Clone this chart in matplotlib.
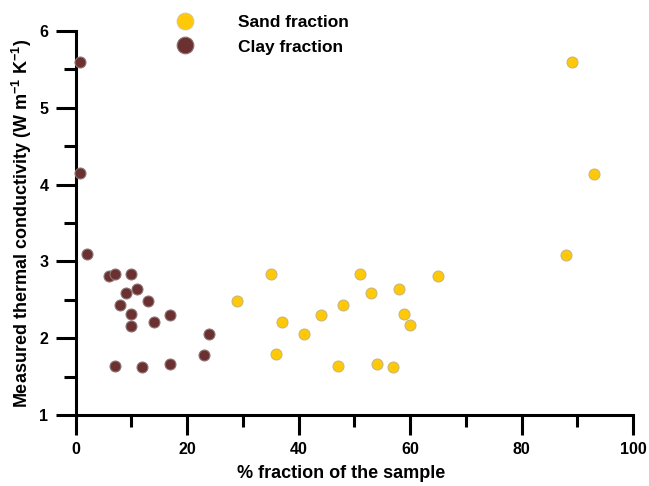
import matplotlib
matplotlib.use("Agg")
import matplotlib.pyplot as plt
from matplotlib.ticker import MultipleLocator
from matplotlib.lines import Line2D

plt.rcParams['font.family'] = ['Liberation Sans', 'DejaVu Sans']
plt.rcParams['font.weight'] = 'bold'
plt.rcParams['mathtext.fontset'] = 'custom'
plt.rcParams['mathtext.rm'] = 'Liberation Sans:bold'
plt.rcParams['mathtext.bf'] = 'Liberation Sans:bold'
plt.rcParams['mathtext.default'] = 'bf'

# Data
sand_x = [89, 93, 88, 29, 35, 51, 65, 53, 58, 48, 44, 37, 41, 59, 60, 36, 47, 54, 57]
sand_y = [5.59, 4.14, 3.08, 2.49, 2.84, 2.83, 2.81, 2.59, 2.64, 2.43, 2.30, 2.21, 2.06, 2.31, 2.17, 1.79, 1.64, 1.66, 1.63]
clay_x = [0.8, 0.8, 2, 6, 7, 10, 9, 11, 8, 13, 10, 10, 14, 17, 24, 23, 7, 12, 17]
clay_y = [5.59, 4.15, 3.09, 2.81, 2.84, 2.84, 2.59, 2.64, 2.43, 2.49, 2.31, 2.16, 2.21, 2.30, 2.06, 1.78, 1.64, 1.63, 1.66]

sand_color = '#FFC907'
clay_color = '#6B3030'

W, H = 649, 486
fig = plt.figure(figsize=(W / 100, H / 100), dpi=100)
ax = fig.add_axes([75.5 / W, (H - 415) / H, (633 - 75.5) / W, (415 - 31) / H])

ax.scatter(sand_x, sand_y, s=62, c=sand_color, edgecolors='#C9B77A', linewidths=0.8, zorder=3, clip_on=False)
ax.scatter(clay_x, clay_y, s=62, c=clay_color, edgecolors='#8E7474', linewidths=0.8, zorder=3, clip_on=False)

ax.set_xlim(0, 100)
ax.set_ylim(1, 6)
ax.xaxis.set_major_locator(MultipleLocator(20))
ax.xaxis.set_minor_locator(MultipleLocator(10))
ax.yaxis.set_major_locator(MultipleLocator(1))
ax.yaxis.set_minor_locator(MultipleLocator(0.5))

for s in ['top', 'right']:
    ax.spines[s].set_visible(False)
for s in ['left', 'bottom']:
    ax.spines[s].set_linewidth(2.2)
    ax.spines[s].set_color('black')

ax.tick_params(which='major', direction='out', length=14.5, width=2.2, labelsize=11.5, pad=5)
ax.tick_params(which='minor', direction='out', length=8.5, width=2.2)
for lab in ax.get_xticklabels() + ax.get_yticklabels():
    lab.set_fontweight('bold')

ax.set_xlabel('% fraction of the sample', fontsize=13, fontweight='bold')
ax.xaxis.label.set_verticalalignment('center')
ax.xaxis.set_label_coords((341 - 75.5) / (633 - 75.5), -(473 - 415) / (415 - 31))
ax.set_ylabel('Measured thermal conductivity (W m$^{-1}$ K$^{-1}$)', fontsize=13, fontweight='bold')
ax.yaxis.label.set_verticalalignment('center')
ax.yaxis.set_label_coords(-(75.5 - 22) / (633 - 75.5), 0.5)

handles = [
    Line2D([], [], marker='o', linestyle='', markersize=12, markerfacecolor=sand_color, markeredgecolor='#D8C890', markeredgewidth=0.8),
    Line2D([], [], marker='o', linestyle='', markersize=12, markerfacecolor=clay_color, markeredgecolor='#8E7474', markeredgewidth=0.8),
]
fig.legend(handles, ['Sand fraction', 'Clay fraction'], loc='upper left',
           bbox_to_anchor=(163 / W, 1 - 6 / H), frameon=False,
           prop={'weight': 'bold', 'size': 12.5}, handletextpad=2.3,
           labelspacing=0.55, borderpad=0, handlelength=1.5)

fig.savefig('out.png', dpi=100)
